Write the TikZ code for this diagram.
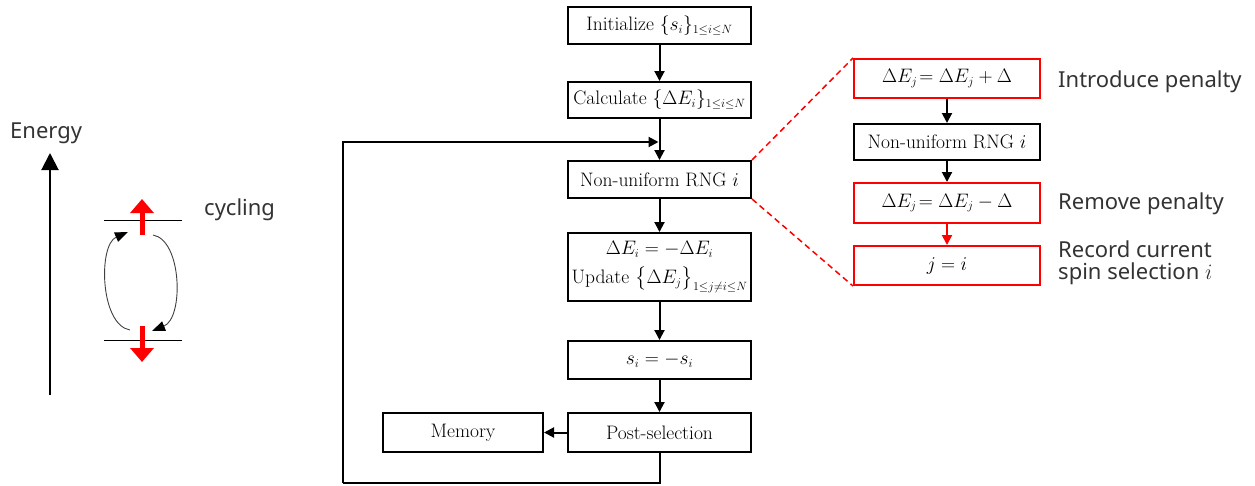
\RequirePackage{fix-cm}
\documentclass[tikz,border=0pt]{standalone}
\usepackage{amsmath,amssymb}
\usepackage{fontspec}
\newfontfamily\lab{Noto Sans}
\usetikzlibrary{arrows.meta}
\DeclareMathSizes{19.5}{19.5}{12}{9}
\tikzset{
  boxfont/.style={font=\fontsize{19.5}{23}\selectfont},
  box/.style={draw,line width=2pt,minimum width=183pt,inner sep=0pt,boxfont,align=center},
  rbox/.style={draw=red,line width=2pt,minimum width=186pt,inner sep=0pt,boxfont,align=center},
  flow/.style={line width=2pt,-{Triangle[width=10pt,length=10pt]}},
  lbl/.style={font=\lab\fontsize{22}{22}\selectfont,text=black!80,anchor=west,align=left,inner sep=0pt}
}
\begin{document}
\begin{tikzpicture}[x=1pt,y=-1pt]
\useasboundingbox (0,0) rectangle (1255,485);
% main column
\node[box,minimum height=37pt] (init) at (659.5,25.5) {Initialize $\{s_i\}_{1\le i\le N}$};
\node[box,minimum height=36pt] (calc) at (659.5,100) {Calculate $\{\Delta E_i\}_{1\le i\le N}$};
\node[box,minimum height=37pt] (rng) at (659.5,179.5) {Non-uniform RNG $i$};
\node[box,minimum height=68pt] (upd) at (659.5,267) {$\Delta E_i=-\Delta E_i$\\[6pt]Update $\bigl\{\Delta E_j\bigr\}_{1\le j\ne i\le N}$};
\node[box,minimum height=38pt] (flip) at (659.5,360) {$s_i=-s_i$};
\node[box,minimum height=39pt] (post) at (659.5,432.5) {Post-selection};
\node[box,minimum height=39pt,minimum width=160pt] (mem) at (463,432.5) {Memory};
\coordinate (fb) at (659.5,142);
\coordinate (c1) at (343,483);
\draw[flow] (init) -- (calc);
\draw[flow] (calc) -- (rng);
\draw[flow] (rng) -- (upd);
\draw[flow] (upd) -- (flip);
\draw[flow] (flip) -- (post);
\draw[flow] (post) -- (mem);
\draw[line width=2pt] (post.south) |- (c1);
\draw[flow,shorten >=1pt] (c1) |- (fb);
% right column
\node[rbox,minimum height=39pt] (r1) at (947,78.5) {$\Delta E_j\!=\Delta E_j+\Delta$};
\node[box,minimum width=186pt,minimum height=36pt] (r2) at (947,142) {Non-uniform RNG $i$};
\node[rbox,minimum height=40pt] (r3) at (947,203) {$\Delta E_j\!=\Delta E_j-\Delta$};
\node[rbox,minimum height=39pt] (r4) at (947,265.5) {$j=i$};
\draw[flow] (r1) -- (r2);
\draw[flow] (r2) -- (r3);
\draw[flow,red] (r3) -- (r4);
\draw[red,line width=1.5pt,dash pattern=on 6pt off 4pt] (rng.north east) -- (r1.north west);
\draw[red,line width=1.5pt,dash pattern=on 6pt off 4pt] (rng.south east) -- (r4.south west);
\node[lbl] (t1) at (1058,82) {Introduce penalty};
\node[lbl] (t2) at (1058,204) {Remove penalty};
\node[lbl] (t3) at (1058,263) {Record current\\spin selection $i$};
% energy diagram
\node[lbl] (en) at (10,133) {Energy};
\node[lbl] (cy) at (204,210) {cycling};
\coordinate (ax0) at (50,395);
\coordinate (ax1) at (50,153);
\draw[line width=2pt,-{Triangle[width=17pt,length=17pt]}] (ax0) -- (ax1);
\coordinate (l1a) at (104,220); \coordinate (l1b) at (182,220);
\coordinate (l2a) at (104,340); \coordinate (l2b) at (182,340);
\draw[line width=1pt] (l1a) -- (l1b);
\draw[line width=1pt] (l2a) -- (l2b);
\coordinate (ua) at (142,235); \coordinate (ub) at (142,199);
\coordinate (da) at (142,326); \coordinate (db) at (142,362);
\draw[red,line width=5pt,-{Triangle[width=23pt,length=14pt]}] (ua) -- (ub);
\draw[red,line width=5pt,-{Triangle[width=23pt,length=14pt]}] (da) -- (db);
\coordinate (la) at (130,330); \coordinate (lb) at (128,232);
\coordinate (ra) at (153,235); \coordinate (rb) at (152,331);
\draw[black!75,line width=0.9pt,-{Triangle[width=10pt,length=13pt,color=black]}] (la) .. controls (100,325) and (98,245) .. (lb);
\draw[black!75,line width=0.9pt,-{Triangle[width=10pt,length=13pt,color=black]}] (ra) .. controls (182,240) and (184,318) .. (rb);
\end{tikzpicture}
\end{document}
